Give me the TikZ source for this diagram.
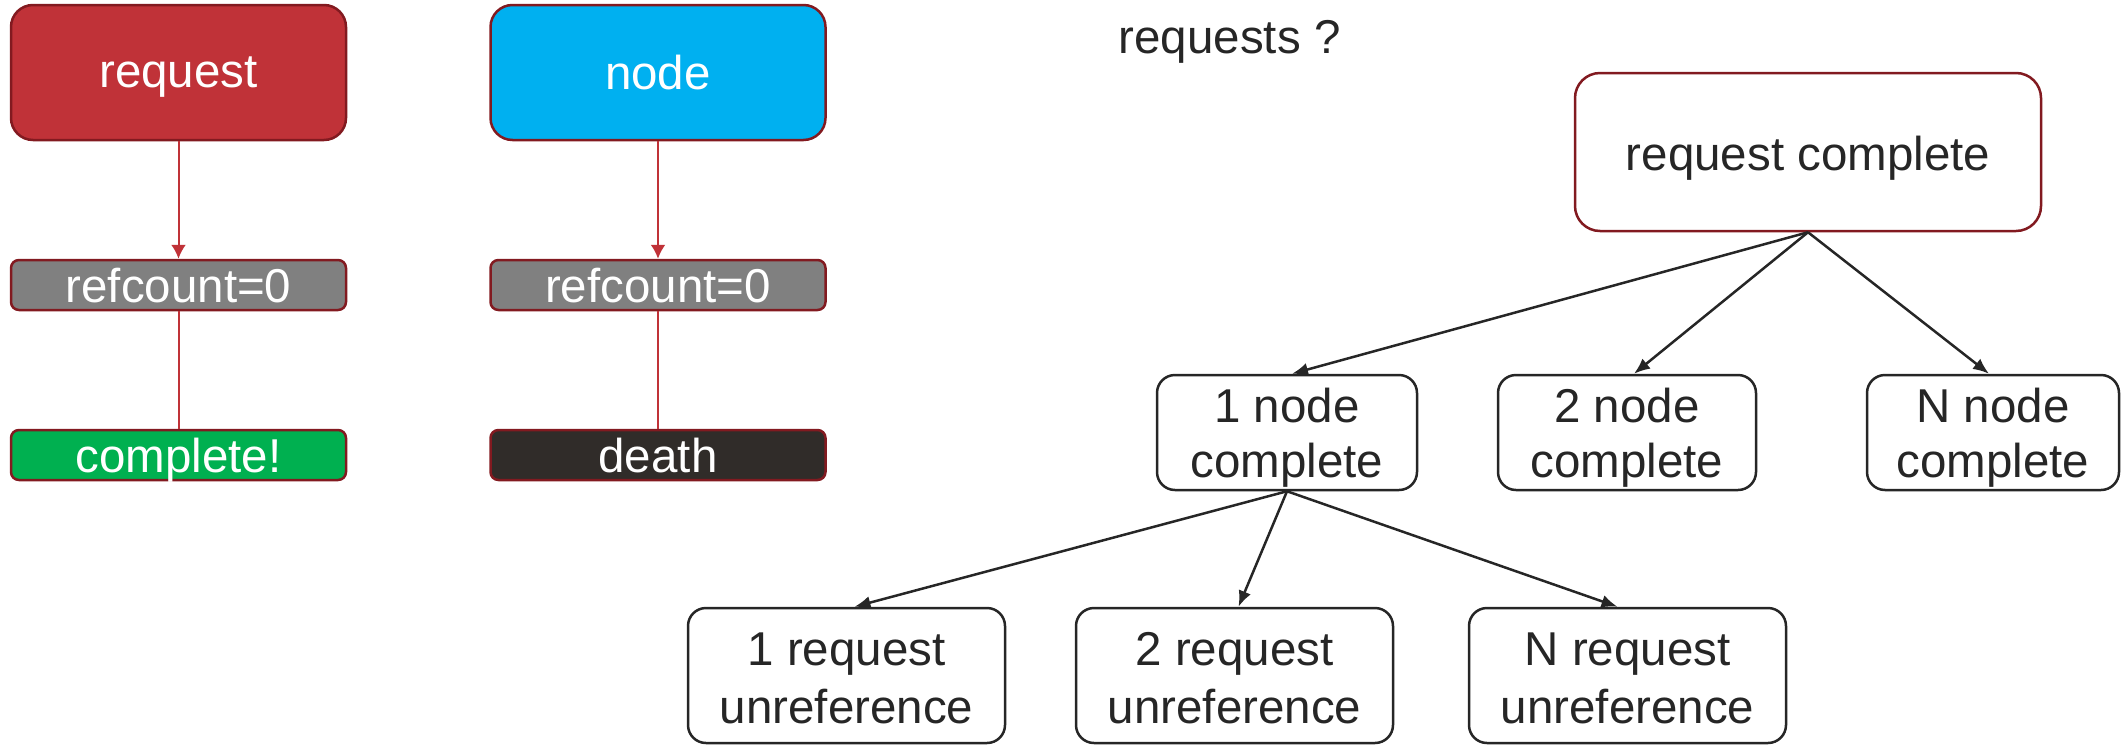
\documentclass[tikz,border=0pt]{standalone}
\usepackage{fontspec}
\setmainfont{Liberation Sans}
\usetikzlibrary{arrows.meta}
\definecolor{reqred}{RGB}{192,50,56}
\definecolor{bordred}{RGB}{130,26,32}
\definecolor{nodecyan}{RGB}{0,176,240}
\definecolor{refgray}{RGB}{128,128,128}
\definecolor{okgreen}{RGB}{0,176,80}
\definecolor{deathgray}{RGB}{48,44,41}
\definecolor{ink}{RGB}{38,38,38}
\newcommand{\bigtext}{\fontsize{47.5}{56}\selectfont}
\tikzset{
  lbox/.style={draw=bordred, line width=2.5pt, text=white, font=\bigtext,
               inner sep=0pt, text depth=0pt, minimum width=335pt},
  headbox/.style={lbox, rounded corners=22pt, minimum height=135pt},
  stepbox/.style={lbox, rounded corners=8pt, minimum height=50pt},
  rbox/.style={draw=ink, line width=2.5pt, fill=white, rounded corners=18pt,
               inner sep=0pt},
  rtxt/.style={text=ink, font=\bigtext, inner sep=0pt, anchor=base},
  redarrow/.style={draw=reqred, line width=2pt},
  blkarrow/.style={draw=ink, line width=2.5pt, -{Latex[length=16pt,width=13pt]}}
}
\begin{document}
\begin{tikzpicture}[x=1pt,y=-1pt]
\useasboundingbox (0,0) rectangle (2121,745);

% left: lifetimes of a request and of a node
\node[headbox, fill=reqred]    (req)   at (178.5,72.5) {request};
\node[headbox, fill=nodecyan]  (nd)    at (658,72.5)   {node};
\node[stepbox, fill=refgray]   (ref1)  at (178.5,285)  {refcount=0};
\node[stepbox, fill=refgray]   (ref2)  at (658,285)    {refcount=0};
\node[stepbox, fill=okgreen]   (comp)  at (178.5,455)  {complete!};
\node[stepbox, fill=deathgray] (death) at (658,455)    {death};

\draw[redarrow, -{Latex[length=14pt,width=15pt]}] (req.south) -- (ref1.north);
\draw[redarrow, -{Latex[length=14pt,width=15pt]}] (nd.south) -- (ref2.north);
\draw[redarrow] (ref1.south) -- (comp.north);
\draw[redarrow] (ref2.south) -- (death.north);

% right: completion fans out to nodes, then to request references
\node[rtxt, anchor=base west] (question) at (1118.5,53.3) {requests ?};

\node[rbox, draw=bordred, rounded corners=25pt, minimum width=466pt, minimum height=158pt]
  (rc) at (1808,152) {};
\node[rtxt] (rct) at (1808,170.5) {request complete};

\node[rbox, minimum width=260pt, minimum height=115pt] (n1) at (1287,432.5) {};
\node[rbox, minimum width=258pt, minimum height=115pt] (n2) at (1627,432.5) {};
\node[rbox, minimum width=252pt, minimum height=115pt] (nN) at (1993,432.5) {};
\node[rtxt] (n1a) at (1287,422.5) {1 node};
\node[rtxt] (n1b) at (1287,477.5) {complete};
\node[rtxt] (n2a) at (1627,422.5) {2 node};
\node[rtxt] (n2b) at (1627,477.5) {complete};
\node[rtxt] (nNa) at (1993,422.5) {N node};
\node[rtxt] (nNb) at (1993,477.5) {complete};

\node[rbox, minimum width=317pt, minimum height=135pt] (u1) at (846.5,675.5) {};
\node[rbox, minimum width=317pt, minimum height=135pt] (u2) at (1234.5,675.5) {};
\node[rbox, minimum width=317pt, minimum height=135pt] (uN) at (1627.5,675.5) {};
\node[rtxt] (u1a) at (846.5,665) {1 request};
\node[rtxt] (u1b) at (846.5,723) {unreference};
\node[rtxt] (u2a) at (1234.5,665) {2 request};
\node[rtxt] (u2b) at (1234.5,723) {unreference};
\node[rtxt] (uNa) at (1627.5,665) {N request};
\node[rtxt] (uNb) at (1627.5,723) {unreference};

\draw[blkarrow] (rc.south) -- ([xshift=5pt]n1.north);
\draw[blkarrow] (rc.south) -- ([xshift=7pt]n2.north);
\draw[blkarrow] (rc.south) -- ([xshift=-4pt]nN.north);
\draw[blkarrow] (n1.south) -- ([xshift=8pt]u1.north);
\draw[blkarrow] (n1.south) -- ([xshift=4pt]u2.north);
\draw[blkarrow] (n1.south) -- ([xshift=-10pt]uN.north);
\end{tikzpicture}
\end{document}
